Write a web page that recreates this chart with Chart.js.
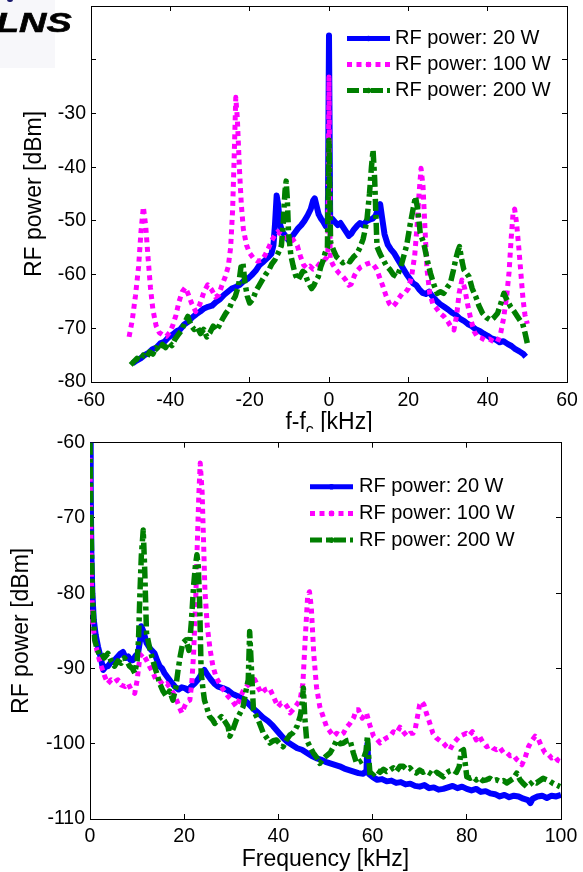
<!DOCTYPE html>
<html>
<head>
<meta charset="utf-8">
<script src="https://cdn.jsdelivr.net/npm/chart.js@4.4.1/dist/chart.umd.min.js"></script>
<style>
  html, body { margin: 0; padding: 0; background: #fff; width: 583px; height: 872px; overflow: hidden; }
  #wrapTop { position: absolute; left: 0; top: 0; width: 583px; height: 440px; }
  #wrapBottom { position: absolute; left: 0; top: 432px; width: 583px; height: 440px; background: #fff; }
  #logoBox { position: absolute; left: 0; top: 0; width: 55px; height: 68px; background: #f7f7fa; }
  #logoDot { position: absolute; left: 7px; top: -3px; width: 6px; height: 5px; border-radius: 3px; background: #1a1a6e; }
  #logo { position: absolute; left: -4px; top: 8px; font: italic 900 27px 'Liberation Sans', Arial, sans-serif;
          color: #000; transform: scaleX(1.4); transform-origin: left top; -webkit-text-stroke: 0.6px #000; }
  canvas { display: block; }
</style>
</head>
<body>
<div id="wrapTop"><canvas id="sidebandChart" width="583" height="440"></canvas></div>
<div id="logoBox"></div><div id="logoDot"></div><div id="logo">LNS</div>
<div id="wrapBottom"><canvas id="spectrumChart" width="583" height="440"></canvas></div>

<script>
// ---- legend labels ----
const seriesLabels = ['RF power: 20 W', 'RF power: 100 W', 'RF power: 200 W'];

// ---- upper panel: power around the carrier, [f - fc (kHz), dBm] ----
const side20 = [
  [-49.5,-76.5],[-48.5,-76.0],[-47.5,-75.6],[-46.5,-75.0],[-45.5,-74.6],[-44.5,-73.9],[-43.5,-73.6],[-42.5,-72.8],
  [-41.5,-72.5],[-40.5,-71.7],[-39.5,-71.2],[-38.5,-70.6],[-37.5,-70.2],[-36.5,-69.3],[-35.5,-68.8],[-34.5,-68.0],
  [-33.5,-67.4],[-32.5,-66.9],[-31.5,-66.3],[-30.5,-66.0],[-29.5,-65.8],[-28.5,-65.1],[-27.5,-64.6],[-26.5,-63.8],
  [-25.5,-63.2],[-24.5,-62.6],[-23.5,-62.3],[-22.5,-61.9],[-21.5,-61.2],[-20.5,-60.8],[-19.5,-60.1],[-18.5,-59.3],
  [-17.5,-58.2],[-16.5,-57.6],[-15.5,-56.9],[-14.5,-56.1],[-14.0,-54.5],[-13.6,-50.5],[-13.2,-45.3],[-12.8,-47.0],
  [-12.4,-50.5],[-11.8,-52.0],[-11.0,-52.8],[-10.2,-53.6],[-9.4,-53.0],[-8.6,-52.2],[-7.8,-51.4],[-7.0,-50.8],
  [-6.2,-50.0],[-5.4,-49.0],[-4.6,-47.8],[-4.0,-46.2],[-3.6,-45.8],[-3.2,-47.0],[-2.6,-48.8],[-2.0,-49.6],
  [-1.4,-50.2],[-0.8,-51.0],[-0.3,-50.6],[0,-15.5],[0.3,-50.2],[0.8,-49.6],[1.5,-50.2],[2.2,-50.8],[2.9,-50.4],
  [3.6,-51.2],[4.3,-52.0],[5.0,-52.8],[5.6,-52.4],[6.3,-51.6],[7.0,-51.0],[7.8,-50.4],[8.6,-50.8],[9.4,-50.1],
  [10.2,-49.8],[11.0,-49.6],[11.8,-49.0],[12.4,-47.6],[12.9,-46.9],[13.4,-49.5],[14.0,-52.5],[14.8,-54.4],
  [15.6,-55.3],[16.4,-56.0],[17.2,-57.0],[18.0,-58.0],[18.8,-59.0],[19.6,-60.0],[20.4,-60.8],[21.2,-61.6],
  [22.0,-62.0],[22.8,-62.8],[23.6,-63.4],[24.4,-63.6],[25.2,-63.2],[26.0,-64.0],[27.0,-64.8],[28.0,-65.5],
  [29.0,-66.0],[30.0,-66.5],[31.0,-67.1],[32.0,-67.5],[33.0,-68.2],[34.0,-68.6],[35.0,-69.2],[36.0,-69.6],
  [37.0,-70.2],[38.0,-70.5],[39.0,-71.0],[40.0,-71.4],[41.0,-71.9],[42.0,-72.1],[43.0,-72.6],[44.0,-72.4],
  [45.0,-72.9],[46.0,-73.3],[47.0,-73.9],[48.0,-74.3],[49.0,-74.8],[49.6,-75.3]
];
const side100 = [
  [-50.4,-71.6],[-49.6,-68.5],[-48.8,-64.0],[-48.0,-58.5],[-47.4,-52.0],[-46.8,-47.4],[-46.2,-51.0],[-45.6,-57.0],
  [-45.0,-62.5],[-44.4,-66.5],[-43.6,-69.5],[-42.8,-70.8],[-42.0,-71.2],[-41.0,-71.5],[-40.2,-70.8],[-39.4,-69.5],
  [-38.6,-67.6],[-37.8,-65.0],[-37.0,-63.2],[-36.2,-62.4],[-35.4,-63.8],[-34.6,-65.4],[-33.6,-66.9],[-32.6,-65.6],
  [-31.6,-63.4],[-30.6,-61.9],[-29.6,-62.8],[-28.6,-64.2],[-27.8,-63.8],[-27.0,-62.0],[-26.2,-60.5],[-25.4,-58.5],
  [-24.8,-55.0],[-24.3,-48.0],[-23.9,-38.0],[-23.5,-27.0],[-23.1,-31.0],[-22.6,-40.0],[-22.1,-47.0],[-21.6,-51.5],
  [-20.8,-54.5],[-20.0,-56.0],[-19.0,-57.0],[-18.0,-57.5],[-16.8,-57.3],[-16.0,-56.2],[-15.2,-55.0],[-14.4,-53.6],
  [-13.6,-52.6],[-12.9,-52.0],[-12.0,-52.6],[-11.2,-53.2],[-10.4,-53.0],[-9.6,-52.8],[-8.8,-53.8],[-8.0,-54.6],
  [-7.2,-56.6],[-6.4,-58.2],[-5.6,-58.8],[-4.8,-58.4],[-4.0,-59.0],[-3.2,-58.8],[-2.4,-58.0],[-1.6,-57.6],
  [-0.8,-57.0],[-0.3,-56.5],[0,-23.2],[0.3,-57.0],[1.0,-58.2],[1.8,-59.1],[2.6,-59.8],[3.4,-60.3],[4.2,-61.0],
  [5.0,-62.0],[5.6,-61.8],[6.4,-60.2],[7.2,-59.2],[8.0,-58.6],[8.8,-58.3],[9.6,-58.0],[10.4,-57.8],[11.2,-58.2],
  [12.0,-59.0],[12.8,-60.6],[13.6,-62.2],[14.4,-64.0],[15.2,-65.4],[16.0,-66.0],[16.8,-65.4],[17.6,-64.4],
  [18.4,-63.6],[19.2,-63.4],[20.0,-62.6],[20.8,-60.4],[21.6,-56.5],[22.2,-51.0],[22.7,-45.0],[23.2,-40.2],
  [23.7,-43.5],[24.2,-51.5],[24.7,-59.0],[25.4,-63.5],[26.2,-65.5],[27.0,-66.2],[28.0,-67.2],[29.0,-67.8],
  [30.0,-68.8],[30.8,-69.8],[31.5,-70.3],[32.2,-67.5],[32.8,-63.5],[33.5,-61.0],[34.2,-62.5],[34.9,-65.4],
  [35.8,-68.5],[36.6,-70.6],[37.4,-71.6],[38.4,-71.8],[39.4,-72.2],[40.4,-72.0],[41.4,-72.4],[42.4,-72.6],
  [43.2,-71.2],[44.0,-68.2],[44.8,-64.0],[45.4,-59.5],[45.9,-53.5],[46.4,-48.6],[46.8,-47.8],[47.3,-50.5],
  [47.9,-55.4],[48.4,-60.0],[48.9,-64.5],[49.4,-67.5],[50.0,-69.2]
];
const side200 = [
  [-50.0,-76.8],[-49.2,-76.2],[-48.4,-75.6],[-47.6,-76.0],[-46.8,-75.0],[-46.0,-75.4],[-45.2,-74.4],[-44.4,-74.8],
  [-43.6,-73.6],[-42.8,-74.2],[-42.0,-73.0],[-41.2,-73.6],[-40.4,-72.6],[-39.6,-73.2],[-38.8,-72.0],[-38.0,-71.2],
  [-37.2,-70.4],[-36.4,-69.0],[-35.6,-67.8],[-34.8,-69.4],[-34.0,-70.2],[-33.2,-69.8],[-32.4,-71.0],[-31.6,-70.2],
  [-30.8,-71.6],[-30.0,-70.8],[-29.2,-69.6],[-28.4,-70.4],[-27.6,-69.4],[-26.8,-68.2],[-26.0,-67.2],[-25.2,-66.4],
  [-24.4,-65.0],[-23.6,-64.0],[-22.8,-62.0],[-22.2,-58.6],[-21.7,-57.8],[-21.2,-61.5],[-20.6,-64.0],[-20.0,-65.3],
  [-19.2,-64.6],[-18.4,-63.0],[-17.6,-62.0],[-16.8,-61.0],[-16.0,-60.0],[-15.2,-59.2],[-14.4,-58.0],[-13.6,-57.2],
  [-12.8,-56.0],[-12.0,-54.6],[-11.5,-50.0],[-11.1,-44.5],[-10.8,-42.6],[-10.5,-46.0],[-10.2,-52.3],[-9.6,-56.5],
  [-9.0,-58.5],[-8.4,-60.2],[-7.8,-61.0],[-7.2,-60.2],[-6.6,-59.4],[-6.1,-59.7],[-5.5,-61.0],[-5.0,-61.8],
  [-4.4,-62.6],[-3.8,-62.0],[-3.2,-61.0],[-2.7,-60.4],[-2.1,-58.6],[-1.5,-57.4],[-1.0,-56.0],[-0.4,-55.0],
  [0,-35.0],[0.4,-54.0],[1.1,-55.4],[1.9,-56.7],[2.7,-57.2],[3.5,-57.8],[4.5,-57.3],[5.3,-57.6],[6.2,-56.7],
  [7.0,-56.2],[7.8,-55.0],[8.6,-53.4],[9.1,-51.7],[9.6,-49.5],[10.2,-45.0],[10.7,-40.0],[11.1,-36.8],[11.5,-42.0],
  [12.1,-54.8],[12.9,-56.2],[13.7,-57.3],[14.5,-58.4],[15.4,-59.1],[16.2,-60.0],[17.1,-60.4],[18.0,-58.8],
  [18.8,-56.7],[19.6,-54.5],[20.5,-50.5],[21.2,-47.8],[21.8,-45.5],[22.4,-48.0],[23.0,-52.3],[23.9,-54.2],
  [24.8,-57.4],[25.6,-59.8],[26.4,-61.8],[27.3,-63.5],[28.1,-63.2],[28.9,-63.5],[29.8,-62.4],[30.6,-61.6],
  [31.3,-59.4],[31.9,-57.3],[32.5,-55.6],[32.9,-54.8],[33.5,-57.4],[34.0,-59.1],[34.7,-59.8],[35.3,-60.4],
  [36.1,-62.6],[37.0,-64.1],[37.8,-65.8],[38.7,-67.2],[39.7,-68.0],[40.8,-68.5],[41.6,-68.0],[42.5,-67.2],
  [43.3,-65.4],[44.1,-63.5],[44.9,-64.8],[45.8,-66.0],[46.6,-66.8],[47.5,-67.8],[48.2,-68.6],[48.8,-69.1],
  [49.4,-70.8],[50.0,-72.8]
];

// ---- lower panel: baseband spectrum, [frequency (kHz), dBm] ----
const spec20 = [
  [0,-60],[0.15,-66],[0.3,-75],[0.5,-80],[0.8,-83.5],[1.2,-85.5],[1.7,-87.1],[2.3,-88.6],[2.8,-90.2],[3.3,-89.8],
  [3.8,-89.7],[4.4,-89.2],[5.2,-88.9],[5.9,-88.4],[6.5,-88.0],[7.0,-87.8],[7.6,-88.6],[8.1,-88.4],[8.6,-88.9],
  [9.1,-88.9],[9.7,-88.3],[10.2,-88.0],[10.6,-86.4],[10.9,-84.4],[11.3,-85.0],[12.0,-86.6],[12.8,-87.4],[13.7,-88.0],
  [14.3,-89.0],[14.8,-89.7],[15.3,-90.0],[15.8,-90.6],[16.5,-91.2],[17.2,-91.8],[18.0,-92.4],[18.8,-92.8],[19.5,-92.5],
  [20.1,-92.6],[20.8,-92.9],[21.5,-92.4],[22.2,-92.0],[22.9,-91.5],[23.6,-90.8],[24.3,-90.2],[25.0,-90.9],[25.7,-91.5],
  [26.4,-92.0],[27.2,-92.4],[28.2,-92.6],[29.3,-92.9],[30.3,-93.4],[31.4,-93.7],[32.4,-94.0],[33.5,-94.6],[34.6,-95.3],
  [35.7,-95.9],[36.7,-96.5],[37.8,-97.0],[38.8,-97.6],[39.9,-98.4],[41.0,-99.2],[42.0,-99.8],[43.0,-100.2],[44.0,-100.6],
  [45.0,-100.8],[46.0,-101.2],[47.0,-101.6],[48.0,-101.9],[49.0,-102.1],[50.0,-102.4],[51.0,-102.6],[52.0,-102.8],
  [53.0,-103.0],[54.0,-103.3],[55.0,-103.5],[56.0,-103.7],[57.0,-103.9],[58.0,-104.0],[58.7,-103.6],[58.9,-100.0],
  [59.2,-104.0],[60.0,-104.4],[61.0,-104.8],[62.0,-104.7],[63.0,-105.0],[64.0,-104.9],[65.0,-105.2],[66.0,-105.1],
  [67.0,-105.4],[68.0,-105.3],[69.0,-105.6],[70.0,-105.7],[71.0,-105.5],[72.0,-105.9],[73.0,-105.8],[74.0,-106.1],
  [75.0,-106.0],[76.0,-105.8],[77.0,-105.6],[78.0,-105.9],[79.0,-105.7],[80.0,-106.0],[81.0,-106.2],[82.0,-106.0],
  [83.0,-106.4],[84.0,-106.3],[85.0,-106.6],[86.0,-106.7],[87.0,-107.0],[88.0,-106.8],[89.0,-107.1],[90.0,-106.9],
  [91.0,-107.0],[92.0,-107.3],[93.0,-107.5],[93.5,-107.9],[94.0,-107.3],[95.0,-107.0],[96.0,-106.9],[97.0,-107.2],
  [98.0,-106.9],[99.0,-107.0],[100.0,-106.8]
];
const spec100 = [
  [0,-62],[0.3,-78],[0.6,-84],[1.0,-86.2],[1.6,-88.0],[2.4,-89.7],[3.1,-91.0],[3.8,-92.0],[4.5,-91.5],[5.2,-91.8],
  [5.9,-91.5],[6.6,-92.2],[7.4,-92.4],[8.1,-92.0],[8.8,-92.9],[9.5,-93.3],[10.0,-91.6],[10.6,-88.4],[11.2,-88.0],
  [12.0,-88.9],[12.7,-89.8],[13.4,-90.6],[14.0,-91.5],[14.8,-91.6],[15.5,-92.2],[16.3,-92.0],[17.0,-92.6],[17.7,-93.3],
  [18.4,-94.2],[19.0,-95.2],[19.5,-95.9],[20.1,-95.0],[20.6,-94.4],[21.2,-94.2],[21.6,-92.0],[22.0,-88.0],[22.4,-81.8],
  [22.8,-73.0],[23.1,-67.0],[23.4,-62.7],[23.8,-66.5],[24.1,-72.9],[24.4,-79.6],[24.9,-84.4],[25.5,-87.5],[26.1,-89.7],
  [26.8,-91.2],[27.5,-92.0],[28.4,-92.9],[29.3,-93.7],[30.2,-94.3],[31.1,-95.1],[31.8,-94.0],[32.5,-93.0],[33.2,-92.4],
  [34.1,-92.0],[35.0,-91.5],[35.7,-92.5],[36.4,-93.3],[37.2,-92.8],[38.1,-92.6],[39.0,-93.8],[39.9,-95.1],[40.6,-94.6],
  [41.3,-94.6],[42.0,-95.2],[42.5,-95.9],[43.2,-95.4],[43.9,-94.8],[44.6,-94.2],[45.2,-92.0],[45.7,-86.0],[46.2,-80.5],
  [46.6,-79.8],[47.0,-82.0],[47.5,-88.0],[48.1,-92.5],[48.8,-95.1],[49.5,-96.4],[50.2,-97.7],[51.0,-98.4],[51.7,-99.0],
  [52.4,-98.6],[53.1,-98.9],[53.8,-98.6],[54.5,-97.8],[55.2,-97.3],[56.0,-96.5],[56.5,-95.5],[57.0,-95.5],[57.8,-96.6],
  [58.7,-95.9],[59.4,-97.5],[60.2,-99.0],[60.9,-99.4],[61.6,-99.9],[62.3,-99.5],[63.0,-99.2],[63.7,-99.0],[64.4,-98.4],
  [65.1,-98.6],[65.8,-97.8],[66.5,-98.4],[67.3,-99.0],[68.0,-98.6],[68.6,-98.6],[69.0,-98.2],[69.5,-96.5],[70.0,-94.8],
  [70.4,-94.4],[70.9,-94.8],[71.4,-95.9],[72.1,-97.2],[72.8,-98.6],[73.5,-99.2],[74.3,-99.6],[75.0,-99.9],[75.7,-100.4],
  [76.4,-100.8],[77.1,-100.0],[77.8,-99.5],[78.5,-99.0],[79.2,-98.8],[79.9,-98.6],[80.5,-98.9],[81.2,-98.4],[82.0,-99.5],
  [82.7,-99.0],[83.4,-99.8],[84.2,-100.4],[85.0,-100.2],[85.6,-100.6],[86.3,-100.8],[87.0,-100.5],[87.8,-101.2],
  [88.5,-101.2],[89.2,-101.6],[89.9,-101.5],[90.6,-102.1],[91.2,-102.4],[91.7,-102.8],[92.4,-101.8],[93.1,-100.4],
  [93.8,-99.6],[94.5,-99.0],[95.2,-99.4],[95.9,-100.4],[96.6,-101.2],[97.3,-101.4],[98.0,-101.9],[98.7,-101.7],
  [99.3,-102.2],[100,-102.4]
];
const spec200 = [
  [0,-60],[0.2,-70],[0.5,-80],[0.8,-84],[1.0,-86.2],[1.5,-87.4],[2.0,-88.2],[2.4,-88.0],[3.0,-88.6],[3.8,-88.0],
  [4.5,-89.0],[5.2,-89.7],[5.9,-89.0],[6.6,-89.3],[7.3,-88.6],[8.0,-89.2],[8.4,-89.7],[9.0,-90.0],[9.5,-90.6],
  [10.0,-89.0],[10.3,-86.2],[10.6,-80.0],[10.9,-75.0],[11.3,-71.6],[11.6,-76.5],[12.0,-85.3],[12.6,-87.1],[13.2,-88.6],
  [13.7,-89.7],[14.3,-90.9],[14.8,-92.0],[15.5,-93.0],[16.2,-93.7],[16.9,-93.0],[17.6,-94.2],[18.2,-92.6],[18.7,-90.2],
  [19.2,-88.2],[19.7,-86.6],[20.4,-86.2],[21.0,-87.6],[21.5,-84.0],[22.0,-79.0],[22.4,-76.2],[22.7,-74.9],[23.0,-76.5],
  [23.3,-81.8],[23.6,-90.6],[24.0,-92.8],[24.3,-94.2],[24.9,-95.4],[25.4,-96.4],[26.0,-96.8],[26.5,-97.3],[27.2,-96.8],
  [27.9,-96.4],[28.6,-97.0],[29.3,-97.7],[29.7,-99.0],[30.4,-98.0],[31.1,-96.8],[31.8,-96.0],[32.5,-95.1],[33.1,-93.0],
  [33.6,-91.5],[33.9,-85.1],[34.2,-89.0],[34.7,-95.5],[35.2,-96.2],[35.7,-96.8],[36.2,-97.6],[36.8,-98.6],[37.5,-99.2],
  [38.2,-99.9],[38.9,-99.6],[39.6,-99.5],[40.3,-100.0],[41.0,-100.4],[41.7,-99.5],[42.5,-98.8],[43.0,-98.6],[43.5,-98.2],
  [44.0,-97.6],[44.6,-96.4],[45.0,-95.0],[45.3,-92.6],[45.6,-96.5],[46.0,-99.5],[46.7,-100.4],[47.4,-101.2],[48.1,-101.8],
  [48.8,-102.6],[49.5,-102.0],[50.2,-101.6],[51.0,-101.2],[51.7,-100.4],[52.4,-99.5],[53.1,-100.0],[53.8,-99.9],
  [54.5,-99.6],[55.2,-99.5],[55.9,-101.2],[56.6,-102.6],[57.3,-102.4],[58.0,-102.1],[58.6,-101.0],[58.9,-99.0],
  [59.2,-102.0],[59.5,-104.4],[60.2,-104.0],[60.9,-103.5],[61.6,-103.8],[62.3,-103.4],[63.0,-103.7],[63.7,-103.5],
  [64.4,-103.2],[65.1,-103.6],[65.8,-103.0],[66.5,-103.0],[67.2,-103.4],[67.9,-103.2],[68.6,-103.7],[69.3,-103.9],
  [70.0,-103.5],[70.7,-103.8],[71.4,-103.6],[72.2,-103.9],[72.9,-104.2],[73.6,-103.8],[74.3,-104.1],[75.0,-104.4],
  [75.7,-103.9],[76.4,-103.6],[77.1,-103.5],[77.8,-103.8],[78.4,-103.0],[78.8,-101.0],[79.3,-100.8],[79.7,-102.8],
  [80.0,-104.4],[80.7,-104.6],[81.4,-104.4],[82.0,-104.8],[82.7,-104.5],[83.4,-104.9],[84.2,-104.8],[84.9,-104.6],
  [85.6,-104.9],[86.3,-104.8],[87.0,-105.0],[87.8,-104.9],[88.5,-105.2],[89.2,-104.9],[89.9,-104.6],[90.6,-103.9],
  [91.3,-104.8],[92.0,-105.3],[92.7,-105.7],[93.4,-105.4],[94.1,-105.0],[94.8,-105.2],[95.5,-104.9],[96.2,-104.6],
  [97.0,-104.8],[97.7,-105.0],[98.4,-105.3],[99.1,-105.5],[99.8,-105.7]
];

// ---- tick labels ----
const sideXTicks = ['-60', '-40', '-20', '0', '20', '40', '60'];
const sideYTicks = ['-80', '-70', '-60', '-50', '-40', '-30'];   // -20 and -10 carry marks only
const specXTicks = ['0', '20', '40', '60', '80', '100'];
const specYTicks = ['-110', '-100', '-90', '-80', '-70', '-60'];

// ---- styling ----
const FONT = "'Liberation Sans', Arial, Helvetica, sans-serif";
const COLORS = ['#0000ff', '#ff00ff', '#007f00'];
const WIDTHS = [6, 5, 5.5];
const DASHES = [[], [5, 4.5], [12, 4, 4, 4]];

function toPoints(pairs) { return pairs.map(p => ({ x: p[0], y: p[1] })); }

function makeDatasets(series) {
  return series.map((pairs, i) => ({
    label: seriesLabels[i],
    data: toPoints(pairs),
    borderColor: COLORS[i],
    backgroundColor: COLORS[i],
    borderWidth: WIDTHS[i],
    borderDash: DASHES[i],
    borderCapStyle: 'butt',
    borderJoinStyle: 'round',
    pointRadius: 0,
    tension: 0,
    fill: false,
    order: 3 - i            // 200 W drawn on top, 20 W underneath
  }));
}

function zeroPad(s) { s.paddingTop = 0; s.paddingBottom = 0; s.paddingLeft = 0; s.paddingRight = 0; }

function buildScales(c) {
  const marks = { drawOnChartArea: false, drawTicks: true, tickLength: -5, color: '#000', lineWidth: 1 };
  const border = { display: true, color: '#000', width: 1 };
  const tickFont = { family: FONT, size: 19.5 };
  const titleFont = { family: FONT, size: 23, lineHeight: 1 };
  return {
    x: {
      type: 'linear', position: 'bottom', min: c.xMin, max: c.xMax,
      ticks: { stepSize: c.xStep, autoSkip: false, maxRotation: 0, color: '#000', font: tickFont, padding: c.xPad,
               callback: v => (c.xLabels.includes(String(v)) ? String(v) : '') },
      grid: marks, border: border,
      title: c.xTitle ? { display: true, text: c.xTitle, color: '#000', font: titleFont, padding: { top: 0, bottom: 1 } }
                      : { display: false },
      afterFit: s => { s.height = c.xAxisH; zeroPad(s); }
    },
    x2: {
      type: 'linear', position: 'top', min: c.xMin, max: c.xMax,
      ticks: { stepSize: c.xStep, display: false },
      grid: marks, border: border,
      afterFit: s => { s.height = 0; zeroPad(s); }
    },
    y: {
      type: 'linear', position: 'left', min: c.yMin, max: c.yMax,
      ticks: { stepSize: 10, autoSkip: false, color: '#000', font: tickFont, padding: 10,
               callback: v => (c.yLabels.includes(String(v)) ? String(v) : '') },
      grid: marks, border: border,
      title: { display: true, text: 'RF power [dBm]', color: '#000', font: titleFont, padding: { top: c.yTitlePad, bottom: 0 } },
      afterFit: s => { s.width = c.yAxisW; zeroPad(s); }
    },
    y2: {
      type: 'linear', position: 'right', min: c.yMin, max: c.yMax,
      ticks: { stepSize: 10, display: false },
      grid: marks, border: border,
      afterFit: s => { s.width = 0; zeroPad(s); }
    }
  };
}

// legend drawn inside the plot area, one row per dataset
const insideLegend = {
  id: 'insideLegend',
  afterDatasetsDraw(chart, args, o) {
    const ctx = chart.ctx;
    chart.data.datasets.forEach((ds, i) => {
      const y = o.top + i * o.rowGap;
      ctx.save();
      ctx.strokeStyle = ds.borderColor;
      ctx.lineWidth = Math.min(ds.borderWidth, 5);
      ctx.lineCap = 'butt';
      ctx.setLineDash(ds.borderDash || []);
      ctx.beginPath();
      ctx.moveTo(o.left, y);
      ctx.lineTo(o.right, y);
      ctx.stroke();
      ctx.setLineDash([]);
      ctx.fillStyle = ds.borderColor;
      ctx.beginPath();
      ctx.arc((o.left + o.right) / 2, y, 2.8, 0, Math.PI * 2);
      ctx.fill();
      ctx.fillStyle = '#000';
      ctx.font = o.fontSize + 'px ' + FONT;
      ctx.textBaseline = 'middle';
      ctx.textAlign = 'left';
      ctx.fillText(ds.label, o.textX, y);
      ctx.restore();
    });
  }
};

// x-axis caption with a subscript carrier symbol
const offsetCaption = {
  id: 'offsetCaption',
  afterDraw(chart, args, o) {
    const ctx = chart.ctx;
    const big = '23px ' + FONT, small = '16px ' + FONT;
    const a = 'f-f', sub = 'c', b = ' [kHz]';
    ctx.save();
    ctx.fillStyle = '#000';
    ctx.textBaseline = 'alphabetic';
    ctx.textAlign = 'left';
    ctx.font = big; const wa = ctx.measureText(a).width, wb = ctx.measureText(b).width;
    ctx.font = small; const ws = ctx.measureText(sub).width;
    const cx = (chart.chartArea.left + chart.chartArea.right) / 2;
    let x = cx - (wa + ws + wb) / 2;
    ctx.font = big; ctx.fillText(a, x, o.baseline); x += wa;
    ctx.font = small; ctx.fillText(sub, x, o.baseline + 6); x += ws;
    ctx.font = big; ctx.fillText(b, x, o.baseline);
    ctx.restore();
  }
};

new Chart(document.getElementById('sidebandChart'), {
  type: 'line',
  data: { datasets: makeDatasets([side20, side100, side200]) },
  plugins: [insideLegend, offsetCaption],
  options: {
    responsive: false, animation: false, devicePixelRatio: 1,
    layout: { padding: { top: 6, right: 16, bottom: 0, left: 0 } },
    plugins: {
      legend: { display: false }, tooltip: { enabled: false },
      insideLegend: { left: 347, right: 390, textX: 395, top: 38.5, rowGap: 26, fontSize: 20 },
      offsetCaption: { baseline: 428.5 }
    },
    scales: buildScales({ xMin: -60, xMax: 60, xStep: 20, yMin: -80, yMax: -10, xLabels: sideXTicks, yLabels: sideYTicks,
                          xPad: 12, xAxisH: 58, yAxisW: 91, yTitlePad: 23, xTitle: null })
  }
});

new Chart(document.getElementById('spectrumChart'), {
  type: 'line',
  data: { datasets: makeDatasets([spec20, spec100, spec200]) },
  plugins: [insideLegend],
  options: {
    responsive: false, animation: false, devicePixelRatio: 1,
    layout: { padding: { top: 10.7, right: 22, bottom: 0, left: 0 } },
    plugins: {
      legend: { display: false }, tooltip: { enabled: false },
      insideLegend: { left: 310, right: 353, textX: 359, top: 54.7, rowGap: 26.7, fontSize: 20 }
    },
    scales: buildScales({ xMin: 0, xMax: 100, xStep: 20, yMin: -110, yMax: -60, xLabels: specXTicks, yLabels: specYTicks,
                          xPad: 11, xAxisH: 53, yAxisW: 90, yTitlePad: 10, xTitle: 'Frequency [kHz]' })
  }
});
</script>
</body>
</html>
